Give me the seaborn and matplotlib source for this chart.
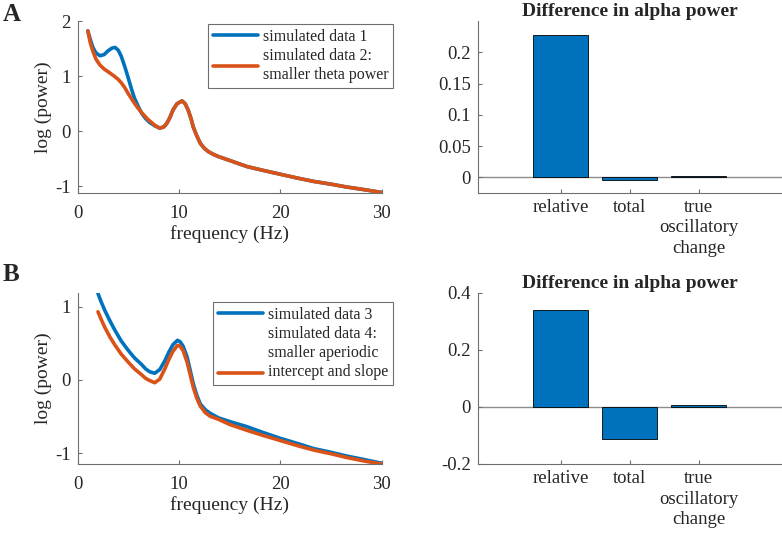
import numpy as np
import pandas as pd
import matplotlib
matplotlib.use("Agg")
import matplotlib.pyplot as plt
import seaborn as sns
from matplotlib.legend_handler import HandlerLine2D

# ---- data ----
# panel A spectra
freq_a1 = [1.0, 1.25, 1.5, 1.8, 2.2, 2.6, 3.0, 3.4, 3.7, 4.0, 4.3, 4.65, 5.0, 5.3, 5.6, 6.0,
           6.3, 6.7, 7.1, 7.6, 8.1, 8.5, 8.8, 9.1, 9.4, 9.8, 10.3, 10.6, 10.9, 11.2, 11.4,
           11.7, 12.1, 12.5, 12.9, 13.4, 13.9, 15.0, 16.7, 18.3, 20.0, 21.7, 23.3, 25.0,
           26.5, 28.3, 30.0]
pow_a1 = [1.82, 1.66, 1.52, 1.42, 1.37, 1.39, 1.46, 1.51, 1.52, 1.47, 1.36, 1.17, 0.96, 0.77,
          0.60, 0.44, 0.33, 0.23, 0.16, 0.10, 0.055, 0.08, 0.145, 0.25, 0.385, 0.50, 0.55,
          0.50, 0.385, 0.22, 0.08, -0.06, -0.22, -0.31, -0.37, -0.42, -0.46, -0.53, -0.64,
          -0.71, -0.78, -0.85, -0.91, -0.96, -1.01, -1.06, -1.11]
freq_a2 = [1.0, 1.25, 1.5, 1.8, 2.2, 2.6, 3.0, 3.3, 3.6, 4.0, 4.3, 4.65, 5.0, 5.45, 5.9, 6.4,
           6.9, 7.6, 8.1, 8.5, 8.8, 9.1, 9.4, 9.8, 10.3, 10.6, 10.9, 11.2, 11.4, 11.7, 12.1,
           12.5, 12.9, 13.4, 13.9, 15.0, 16.7, 18.3, 20.0, 21.7, 23.3, 25.0, 26.5, 28.3, 30.0]
pow_a2 = [1.82, 1.60, 1.45, 1.31, 1.20, 1.13, 1.08, 1.04, 1.00, 0.94, 0.88, 0.79, 0.68, 0.55,
          0.43, 0.32, 0.22, 0.11, 0.055, 0.08, 0.145, 0.25, 0.385, 0.50, 0.55, 0.50, 0.385,
          0.22, 0.08, -0.06, -0.22, -0.31, -0.37, -0.42, -0.46, -0.53, -0.64, -0.71, -0.78,
          -0.85, -0.91, -0.96, -1.01, -1.06, -1.11]

# panel B spectra
freq_b = [2.0, 2.3, 2.7, 3.2, 3.7, 4.3, 5.0, 5.6, 6.3, 6.7, 7.1, 7.6, 8.1, 8.6, 9.0, 9.4,
          9.85, 10.1, 10.4, 10.8, 11.1, 11.4, 11.75, 12.1, 12.6, 13.1, 13.9, 15.0, 16.7,
          18.3, 20.0, 21.7, 23.3, 25.0, 26.5, 28.3, 30.0]
pow_b3 = [1.18, 1.07, 0.94, 0.80, 0.67, 0.53, 0.40, 0.30, 0.21, 0.15, 0.11, 0.09, 0.14, 0.26,
          0.38, 0.48, 0.54, 0.52, 0.46, 0.31, 0.13, -0.05, -0.21, -0.33, -0.41, -0.46, -0.52,
          -0.57, -0.64, -0.72, -0.80, -0.87, -0.94, -0.99, -1.04, -1.09, -1.14]
pow_b4 = [0.93, 0.83, 0.71, 0.58, 0.47, 0.35, 0.24, 0.15, 0.07, 0.02, -0.01, -0.04, 0.01, 0.15,
          0.28, 0.39, 0.47, 0.46, 0.40, 0.24, 0.07, -0.10, -0.25, -0.36, -0.45, -0.50, -0.54,
          -0.61, -0.69, -0.76, -0.83, -0.90, -0.96, -1.01, -1.06, -1.11, -1.15]

# bar charts
measures = ["relative", "total", "true\noscillatory\nchange"]
diff_a = [0.228, -0.004, 0.002]
diff_b = [0.339, -0.113, 0.005]

blue = "#0072BD"
orange = "#D95319"
axis_gray = "#6e6e6e"

sns.set_style("ticks")
plt.rcParams["font.family"] = ["Liberation Serif", "DejaVu Serif"]
plt.rcParams["axes.unicode_minus"] = False
plt.rcParams["axes.edgecolor"] = axis_gray
plt.rcParams["xtick.color"] = axis_gray
plt.rcParams["ytick.color"] = axis_gray
plt.rcParams["xtick.labelcolor"] = "#262626"
plt.rcParams["ytick.labelcolor"] = "#262626"


class ShiftedLine(HandlerLine2D):
    # move the legend line down so it sits next to the last text row
    def __init__(self, dy, **kw):
        super().__init__(**kw)
        self.dy = dy

    def create_artists(self, legend, orig_handle, xdescent, ydescent, width, height, fontsize, trans):
        arts = super().create_artists(legend, orig_handle, xdescent, ydescent, width, height, fontsize, trans)
        for a in arts:
            a.set_ydata(np.asarray(a.get_ydata(), dtype=float) - self.dy)
        return arts


fig = plt.figure(figsize=(7.82, 5.36), dpi=100)
w = 304 / 782
ax_a = fig.add_axes([77.7 / 782, 1 - 193 / 536, w, 172 / 536])
ax_ab = fig.add_axes([477.7 / 782, 1 - 193 / 536, w, 172 / 536])
ax_b = fig.add_axes([77.7 / 782, 1 - 464 / 536, w, 171.3 / 536])
ax_bb = fig.add_axes([477.7 / 782, 1 - 464 / 536, w, 171.3 / 536])


def style_axis(ax):
    sns.despine(ax=ax)
    for s in ["left", "bottom"]:
        ax.spines[s].set_linewidth(0.8)
    ax.tick_params(direction="in", length=3, width=0.8, labelsize=13.5)
    ax.tick_params(axis="y", pad=5)


# ---- spectra ----
df_a = pd.concat([
    pd.DataFrame({"freq": freq_a1, "pow": pow_a1, "set": "simulated data 1"}),
    pd.DataFrame({"freq": freq_a2, "pow": pow_a2, "set": "simulated data 2:\nsmaller theta power"}),
])
sns.lineplot(data=df_a, x="freq", y="pow", hue="set", palette=[blue, orange],
             linewidth=2.6, ax=ax_a, sort=False, estimator=None)
df_b = pd.concat([
    pd.DataFrame({"freq": freq_b, "pow": pow_b3, "set": "simulated data 3"}),
    pd.DataFrame({"freq": freq_b, "pow": pow_b4,
                  "set": "simulated data 4:\nsmaller aperiodic\nintercept and slope"}),
])
sns.lineplot(data=df_b, x="freq", y="pow", hue="set", palette=[blue, orange],
             linewidth=2.6, ax=ax_b, sort=False, estimator=None)

for ax, ylim, yt in [(ax_a, (-1.12, 2.0), [-1, 0, 1, 2]), (ax_b, (-1.15, 1.19), [-1, 0, 1])]:
    style_axis(ax)
    ax.set_xlim(0, 30)
    ax.set_ylim(*ylim)
    ax.set_xticks([0, 10, 20, 30])
    ax.set_yticks(yt)
    ax.tick_params(axis="x", pad=8.5)
    ax.set_xlabel("frequency (Hz)", fontsize=14, labelpad=2.5, color="#262626")
    ax.set_ylabel("log (power)", fontsize=14, labelpad=2, color="#262626")

leg_kw = dict(loc="upper right", borderaxespad=0, fontsize=11.5, handlelength=2.8,
              handletextpad=0.3, labelspacing=0.2, borderpad=0.3, fancybox=False,
              framealpha=1, edgecolor=axis_gray)
h, l = ax_a.get_legend_handles_labels()
leg = ax_a.legend(h, l, bbox_to_anchor=(1.037, 0.983), **leg_kw)
leg.get_frame().set_linewidth(0.8)
for t in leg.get_texts():
    t.set_linespacing(1.25)
h, l = ax_b.get_legend_handles_labels()
leg = ax_b.legend(h, l, bbox_to_anchor=(1.036, 0.947),
                  handler_map={h[1]: ShiftedLine(dy=14.0)}, **leg_kw)
leg.get_frame().set_linewidth(0.8)
for t in leg.get_texts():
    t.set_linespacing(1.25)

# ---- bars ----
for ax, vals, ylim, yt, ytl in [
    (ax_ab, diff_a, (-0.025, 0.25), [0, 0.05, 0.1, 0.15, 0.2], ["0", "0.05", "0.1", "0.15", "0.2"]),
    (ax_bb, diff_b, (-0.2, 0.4), [-0.2, 0, 0.2, 0.4], ["-0.2", "0", "0.2", "0.4"]),
]:
    sns.barplot(x=measures, y=vals, color=blue, saturation=1, width=0.8,
                edgecolor="black", linewidth=0.6, errorbar=None, ax=ax)
    ax.axhline(0, color="#8c8c8c", linewidth=1.0, zorder=0.5)
    style_axis(ax)
    ax.set_xlim(-1.2, 3.2)
    ax.set_ylim(*ylim)
    ax.set_yticks(yt)
    ax.set_yticklabels(ytl)
    ax.set_xticks(range(len(measures)))
    ax.set_xticklabels(measures, linespacing=1.25)
    ax.tick_params(axis="x", pad=4.5)
    ax.set_title("Difference in alpha power", fontsize=14, fontweight="bold", pad=3.5)

fig.text(0.0035, 1 - 20.7 / 536, "A", fontsize=18, fontweight="bold", va="baseline")
fig.text(0.0035, 1 - 281 / 536, "B", fontsize=18, fontweight="bold", va="baseline")

fig.savefig("out.png", dpi=100)
